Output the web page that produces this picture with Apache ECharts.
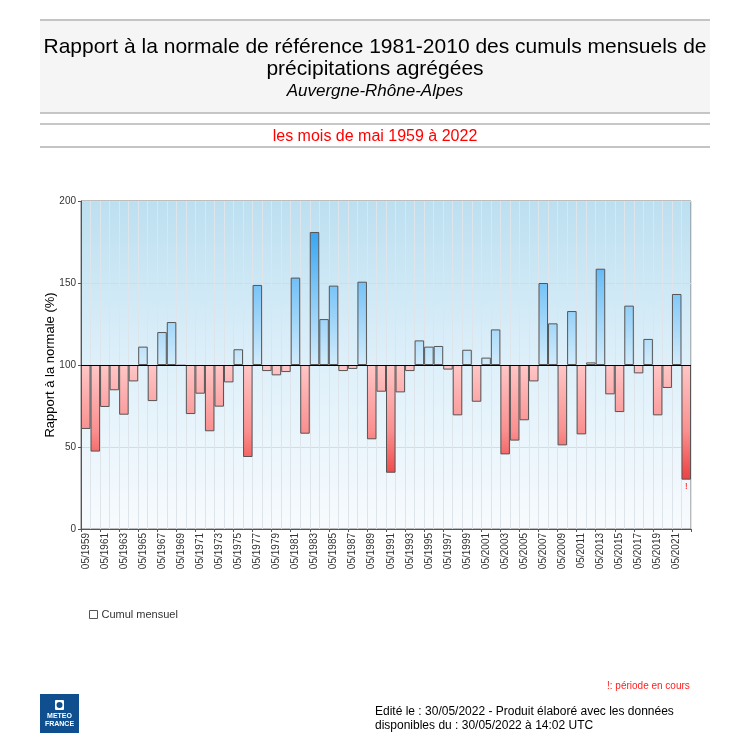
<!DOCTYPE html>
<html>
<head>
<meta charset="utf-8">
<script src="https://cdn.jsdelivr.net/npm/echarts@6/dist/echarts.min.js"></script>
<style>
html,body{margin:0;padding:0;background:#fff;}
#chart{width:750px;height:750px;}
</style>
</head>
<body>
<div id="chart"></div>
<script>
var years = [];
for (var y = 1959; y <= 2022; y++) { years.push('05/' + y); }
var ratios = [
  61.0, 47.2, 74.4, 84.6, 69.7, 90.0, 111.2, 78.0, 120.1, 126.2,
  99.6, 70.1, 82.5, 59.6, 74.6, 89.4, 109.6, 43.9, 148.8, 96.3,
  93.7, 95.7, 153.3, 58.1, 181.1, 128.0, 148.4, 96.3, 97.6, 150.8,
  54.7, 83.7, 34.3, 83.3, 96.3, 115.0, 111.2, 111.6, 97.2, 69.3,
  109.3, 77.6, 104.5, 121.7, 45.5, 53.9, 66.3, 90.0, 150.0, 125.4,
  51.0, 132.9, 57.7, 101.6, 158.7, 82.1, 71.3, 136.2, 94.9, 115.9,
  69.3, 86.0, 143.3, 30.1
];
var yTicks = [0, 50, 100, 150, 200];
var reference = 100;
var currentPeriodIndex = ratios.length - 1;

var FONT = '"Liberation Sans", Arial, sans-serif';
var gridTop = 201, gridBottomPx = 529;
var midPx = (gridTop + gridBottomPx) / 2;

var blueGrad = {
  type: 'linear', x: 0, y: gridTop, x2: 0, y2: midPx, global: true,
  colorStops: [{offset: 0, color: '#1890f0'}, {offset: 0.2, color: '#3aa6f4'}, {offset: 0.5, color: '#76c3f7'}, {offset: 1, color: '#d2ecfb'}]
};
var redGrad = {
  type: 'linear', x: 0, y: midPx, x2: 0, y2: gridBottomPx, global: true,
  colorStops: [{offset: 0, color: '#ffc6c6'}, {offset: 0.4, color: '#fa9090'}, {offset: 0.66, color: '#f04a4a'}, {offset: 1, color: '#e01818'}]
};

var data = ratios.map(function (v, i) {
  var item = {
    value: v - reference,
    itemStyle: {color: v >= reference ? blueGrad : redGrad}
  };
  if (i === currentPeriodIndex) {
    item.label = {show: true, position: 'bottom', formatter: '!', color: '#ff0000', fontSize: 9, distance: 2, fontFamily: FONT};
  }
  return item;
});

var chart = echarts.init(document.getElementById('chart'), null, {renderer: 'canvas'});
chart.setOption({
  backgroundColor: '#ffffff',
  animation: false,
  textStyle: {fontFamily: FONT},
  graphic: [
    {type: 'rect', shape: {x: 40, y: 20, width: 670, height: 93}, style: {fill: '#f5f5f5'}, z: -10},
    {type: 'line', shape: {x1: 40, y1: 20, x2: 710, y2: 20}, style: {stroke: '#c4c4c4', lineWidth: 2}},
    {type: 'line', shape: {x1: 40, y1: 113, x2: 710, y2: 113}, style: {stroke: '#b4b4b4', lineWidth: 1.5}},
    {type: 'line', shape: {x1: 40, y1: 124, x2: 710, y2: 124}, style: {stroke: '#b4b4b4', lineWidth: 1.5}},
    {type: 'line', shape: {x1: 40, y1: 147, x2: 710, y2: 147}, style: {stroke: '#c4c4c4', lineWidth: 2}},
    {type: 'text', left: 607, top: 681, style: {text: '!: période en cours', fill: '#ff2020', fontSize: 10, fontFamily: FONT}},
    {type: 'text', left: 375, top: 705, style: {text: 'Edité le : 30/05/2022 - Produit élaboré avec les données\ndisponibles du : 30/05/2022 à 14:02 UTC', fill: '#000', fontSize: 12, lineHeight: 14, fontFamily: FONT}},
    {type: 'group', left: 40, top: 694, children: [
      {type: 'rect', shape: {x: 0, y: 0, width: 39, height: 39}, style: {fill: '#0f4f90'}},
      {type: 'rect', shape: {x: 15, y: 6, width: 9, height: 10, r: 1}, style: {fill: '#ffffff'}},
      {type: 'circle', shape: {cx: 19.5, cy: 11, r: 3}, style: {fill: '#0f4f90'}},
      {type: 'text', style: {x: 19.5, y: 19, text: 'METEO', fill: '#fff', fontSize: 7, fontWeight: 'bold', align: 'center', fontFamily: FONT}},
      {type: 'text', style: {x: 19.5, y: 27, text: 'FRANCE', fill: '#fff', fontSize: 7, fontWeight: 'bold', align: 'center', fontFamily: FONT}}
    ]}
  ],
  title: [
    {text: 'Rapport à la normale de référence 1981-2010 des cumuls mensuels de\nprécipitations agrégées', left: 'center', top: 31,
      textStyle: {fontSize: 21, fontWeight: 'normal', color: '#000', lineHeight: 22, fontFamily: FONT}},
    {text: 'Auvergne-Rhône-Alpes', left: 'center', top: 78,
      textStyle: {fontSize: 17, fontWeight: 'normal', fontStyle: 'italic', color: '#000', fontFamily: FONT}},
    {text: 'les mois de mai 1959 à 2022', left: 'center', top: 124,
      textStyle: {fontSize: 16, fontWeight: 'normal', color: '#ff0000', fontFamily: FONT}}
  ],
  legend: {
    left: 84, top: 604, icon: 'rect', itemWidth: 8, itemHeight: 8, itemGap: 4,
    data: ['Cumul mensuel'],
    textStyle: {fontSize: 11, color: '#333', fontFamily: FONT, padding: [0, 0, 0, -1]},
    itemStyle: {color: '#ffffff', borderColor: '#555', borderWidth: 1}
  },
  grid: {
    left: 81, right: 59, top: gridTop, bottom: 750 - gridBottomPx, containLabel: false,
    show: true, borderColor: '#7a7a7a', borderWidth: 1,
    backgroundColor: {type: 'linear', x: 0, y: 0, x2: 0, y2: 1,
      colorStops: [{offset: 0, color: '#bcdff0'}, {offset: 0.5, color: '#def0fa'}, {offset: 1, color: '#f8fbfe'}]}
  },
  xAxis: {
    type: 'category', data: years, boundaryGap: true,
    axisLine: {onZero: false, lineStyle: {color: '#555'}},
    axisTick: {show: true, length: 3, lineStyle: {color: '#555'}},
    axisLabel: {interval: 1, rotate: 90, fontSize: 10, color: '#333', margin: 4, fontFamily: FONT},
    splitLine: {show: true, interval: 0, lineStyle: {color: '#dde4ea', width: 1}}
  },
  yAxis: {
    type: 'value', min: yTicks[0] - reference, max: yTicks[yTicks.length - 1] - reference, interval: yTicks[1] - yTicks[0],
    name: 'Rapport à la normale (%)', nameLocation: 'middle', nameGap: 24, nameMoveOverlap: false,
    nameTextStyle: {fontSize: 13, color: '#000', fontFamily: FONT},
    axisLine: {show: true, lineStyle: {color: '#555'}},
    axisTick: {show: true, length: 3, lineStyle: {color: '#555'}},
    axisLabel: {formatter: function (v) { return String(v + reference); }, fontSize: 10, color: '#333', margin: 5, fontFamily: FONT},
    splitLine: {show: true, lineStyle: {color: '#d4dbe3', width: 1}}
  },
  series: [{
    name: 'Cumul mensuel', type: 'bar', data: data, barCategoryGap: 0,
    itemStyle: {borderColor: '#555', borderWidth: 1},
    markLine: {
      silent: true, symbol: 'none', label: {show: false},
      lineStyle: {color: '#000', width: 1, type: 'solid'},
      data: [{yAxis: 0}]
    }
  }]
});
</script>
</body>
</html>
